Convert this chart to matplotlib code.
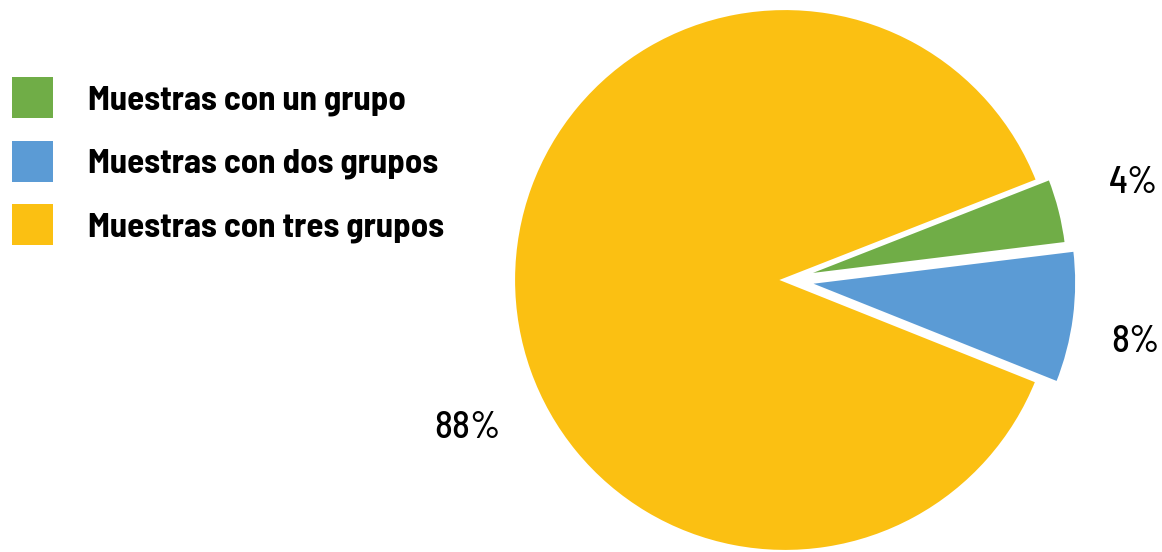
import numpy as np
import matplotlib.pyplot as plt
from matplotlib.patches import Patch

labels = ["Muestras con un grupo", "Muestras con dos grupos", "Muestras con tres grupos"]
values = [4, 8, 88]
colors = ["#70AD47", "#5B9BD5", "#FBC012"]
explode = [0.045, 0.075, 0.0]

plt.rcParams['font.family'] = ['Barlow Semi Condensed', 'DejaVu Sans']

fig = plt.figure(figsize=(11.62, 5.52), dpi=100)
ax = fig.add_axes([0, 0, 1, 1])

cx, cy, r = 785, 272, 272
wedges, _ = ax.pie(values, colors=colors, explode=[e * r for e in explode],
                   startangle=21.4, counterclock=False, center=(cx, cy), radius=r,
                   wedgeprops=dict(edgecolor="white", linewidth=3))
ax.set_xlim(0, 1162)
ax.set_ylim(0, 552)
ax.set_aspect("equal")
ax.axis("off")

# percent labels (Excel-like placement)
lab_ang = [15.5, -10, 205]
lab_r = [1.33, 1.31, 1.29]
for v, a, lr in zip(values, lab_ang, lab_r):
    t = np.deg2rad(a)
    ax.text(cx + lr * r * np.cos(t), cy + lr * r * np.sin(t), f"{v}%",
            ha="center", va="center", fontsize=27, fontweight="medium", color="black")

fs = 25
handles = [Patch(facecolor=c, edgecolor="none") for c in colors]
fig.legend(handles, labels, loc="upper left", bbox_to_anchor=(0.0103, 0.8605),
           frameon=False, borderpad=0, borderaxespad=0,
           handlelength=1.18, handleheight=1.44, handletextpad=1.0,
           labelspacing=0.65, prop=dict(size=fs, weight="bold"))

fig.savefig("out.png", dpi=100)
